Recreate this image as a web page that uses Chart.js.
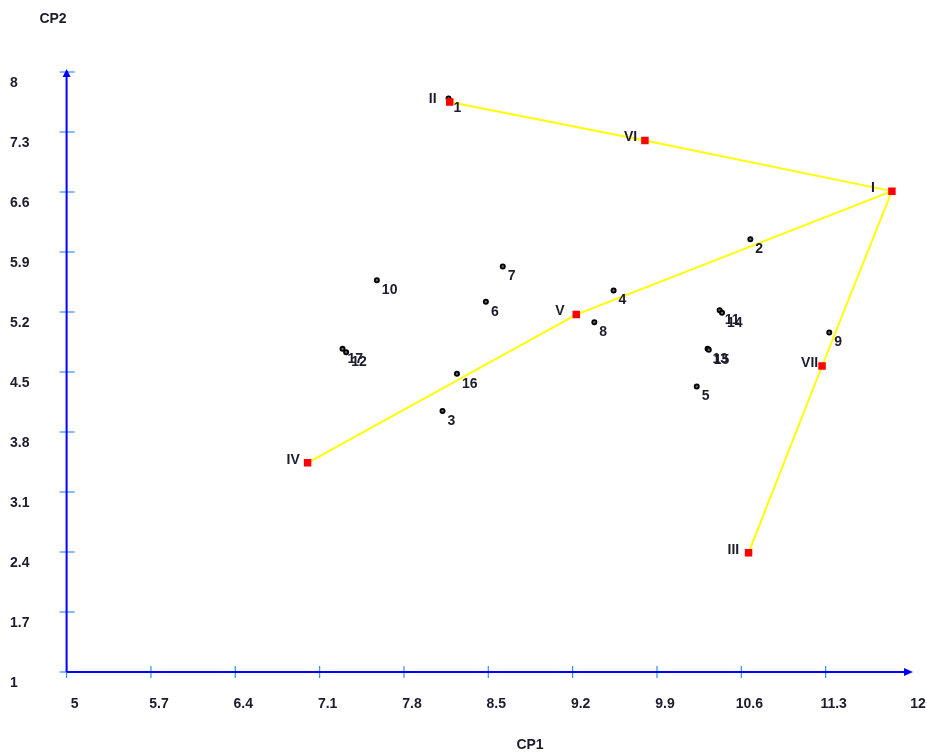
<!DOCTYPE html>
<html>
<head>
<meta charset="utf-8">
<script src="https://cdn.jsdelivr.net/npm/chart.js@4/dist/chart.umd.min.js"></script>
<style>
html,body{margin:0;padding:0;background:#fff;}
#wrap{width:927px;height:755px;position:relative;}
</style>
</head>
<body>
<div id="wrap"><canvas id="c"></canvas></div>
<script>
// ---- data ----
const obsNames = ['1','2','3','4','5','6','7','8','9','10','11','12','13','14','15','16','17'];
const obsX = [8.17, 10.675, 8.12, 9.54, 10.23, 8.48, 8.62, 9.38, 11.33, 7.575, 10.42, 7.32, 10.32, 10.44, 10.33, 8.24, 7.29];
const obsY = [7.69, 6.05, 4.045, 5.45, 4.33, 5.32, 5.73, 5.08, 4.96, 5.57, 5.22, 4.73, 4.77, 5.19, 4.76, 4.48, 4.77];

const groupNames = ['I','II','III','IV','V','VI','VII'];
const groupX = [11.85, 8.18, 10.66, 7.00, 9.23, 9.80, 11.27];
const groupY = [6.61, 7.65, 2.39, 3.44, 5.17, 7.20, 4.57];

const paths = [['II','VI','I'], ['IV','V','I'], ['III','VII','I']];

const xTicks = [5, 5.7, 6.4, 7.1, 7.8, 8.5, 9.2, 9.9, 10.6, 11.3, 12];
const xTickLabels = ['5','5.7','6.4','7.1','7.8','8.5','9.2','9.9','10.6','11.3','12'];
const yTicks = [1, 1.7, 2.4, 3.1, 3.8, 4.5, 5.2, 5.9, 6.6, 7.3, 8];
const yTickLabels = ['1','1.7','2.4','3.1','3.8','4.5','5.2','5.9','6.6','7.3','8'];

const xTitle = 'CP1';
const yTitle = 'CP2';

// ---- build datasets ----
const gPt = n => { const i = groupNames.indexOf(n); return {x: groupX[i], y: groupY[i]}; };
const lineSets = paths.map(p => ({
  type: 'line',
  data: p.map(gPt),
  borderColor: '#ffff00',
  borderWidth: 2,
  pointRadius: 0,
  fill: false,
  tension: 0,
  order: 3
}));

const obsSet = {
  type: 'scatter',
  data: obsX.map((x, i) => ({x, y: obsY[i]})),
  pointRadius: 2.1,
  pointBorderWidth: 1.8,
  pointBorderColor: '#000',
  pointBackgroundColor: '#666',
  labelsList: obsNames,
  labelKind: 'obs',
  order: 2
};
const groupSet = {
  type: 'scatter',
  data: groupX.map((x, i) => ({x, y: groupY[i]})),
  pointStyle: 'rect',
  pointRadius: 5.3,
  pointBorderWidth: 0,
  pointBackgroundColor: '#ff0000',
  pointBorderColor: '#ff0000',
  labelsList: groupNames,
  labelKind: 'group',
  order: 1
};

const FAM = '"Liberation Sans", Arial, sans-serif';
const FONT = 'bold 14px ' + FAM;
const TXT = '#1c1c2c';

const axisPlugin = {
  id: 'axisPlugin',
  beforeDatasetsDraw(chart) {
    const ctx = chart.ctx, xs = chart.scales.x, ys = chart.scales.y;
    const x0 = xs.getPixelForValue(xTicks[0]);
    const y0 = ys.getPixelForValue(yTicks[0]);
    const xEnd = xs.getPixelForValue(xTicks[xTicks.length - 1]);
    const yEnd = ys.getPixelForValue(yTicks[yTicks.length - 1]);
    ctx.save();
    // tick crosses
    ctx.strokeStyle = '#3a8cff';
    ctx.lineWidth = 1.2;
    xTicks.forEach((v, i) => {
      if (i === xTicks.length - 1) return;
      const px = xs.getPixelForValue(v);
      ctx.beginPath(); ctx.moveTo(px, y0 - 6); ctx.lineTo(px, y0 + 6); ctx.stroke();
    });
    yTicks.forEach((v) => {
      const py = ys.getPixelForValue(v);
      ctx.beginPath(); ctx.moveTo(x0 - 7, py); ctx.lineTo(x0 + 8, py); ctx.stroke();
    });
    // axis lines
    ctx.strokeStyle = '#0000ff';
    ctx.fillStyle = '#0000ff';
    ctx.lineWidth = 2;
    ctx.beginPath(); ctx.moveTo(x0, y0); ctx.lineTo(xEnd - 2, y0); ctx.stroke();
    ctx.beginPath(); ctx.moveTo(x0, y0); ctx.lineTo(x0, yEnd + 2); ctx.stroke();
    // arrows
    ctx.beginPath(); ctx.moveTo(xEnd + 3, y0); ctx.lineTo(xEnd - 6, y0 - 4); ctx.lineTo(xEnd - 6, y0 + 4); ctx.closePath(); ctx.fill();
    ctx.beginPath(); ctx.moveTo(x0, yEnd - 3); ctx.lineTo(x0 - 4, yEnd + 5); ctx.lineTo(x0 + 4, yEnd + 5); ctx.closePath(); ctx.fill();
    ctx.restore();
  },
  afterDatasetsDraw(chart) {
    const ctx = chart.ctx;
    ctx.save();
    ctx.font = FONT;
    ctx.fillStyle = TXT;
    ctx.textAlign = 'left';
    ctx.textBaseline = 'middle';
    chart.data.datasets.forEach((ds, di) => {
      if (!ds.labelsList) return;
      const meta = chart.getDatasetMeta(di);
      meta.data.forEach((el, i) => {
        const t = ds.labelsList[i];
        if (ds.labelKind === 'obs') ctx.fillText(t, el.x + 5, el.y + 10);
        else ctx.fillText(t, el.x - 21, el.y - 3);
      });
    });
    // axis titles
    ctx.font = 'bold 14px ' + FAM;
    ctx.textAlign = 'center';
    ctx.fillText(yTitle, 53, 19);
    ctx.fillText(xTitle, 530, 745);
    ctx.restore();
  }
};

new Chart(document.getElementById('c'), {
  data: { datasets: [...lineSets, obsSet, groupSet] },
  options: {
    responsive: true,
    maintainAspectRatio: false,
    animation: false,
    layout: { padding: { left: 10, right: 17, top: 72, bottom: 0 } },
    plugins: { legend: { display: false }, tooltip: { enabled: false } },
    scales: {
      x: {
        type: 'linear', min: 5, max: 12,
        afterBuildTicks: s => { s.ticks = xTicks.map(v => ({value: v})); },
        afterFit: s => { s.height = 83; s.paddingLeft = 0; s.paddingRight = 0; },
        grid: { display: false, drawTicks: false },
        border: { display: false },
        ticks: {
          padding: 24,
          labelOffset: 8,
          maxRotation: 0,
          autoSkip: false,
          color: TXT,
          font: { family: FAM, size: 14, weight: 'bold' },
          callback: (v, i) => xTickLabels[i]
        }
      },
      y: {
        type: 'linear', min: 1, max: 8,
        afterBuildTicks: s => { s.ticks = yTicks.map(v => ({value: v})); },
        afterFit: s => { s.width = 56.6; s.paddingTop = 0; s.paddingBottom = 0; },
        grid: { display: false, drawTicks: false },
        border: { display: false },
        ticks: {
          crossAlign: 'far',
          padding: 8,
          labelOffset: 11,
          autoSkip: false,
          color: TXT,
          font: { family: FAM, size: 14, weight: 'bold' },
          callback: (v, i) => yTickLabels[i]
        }
      }
    }
  },
  plugins: [axisPlugin]
});
</script>
</body>
</html>
